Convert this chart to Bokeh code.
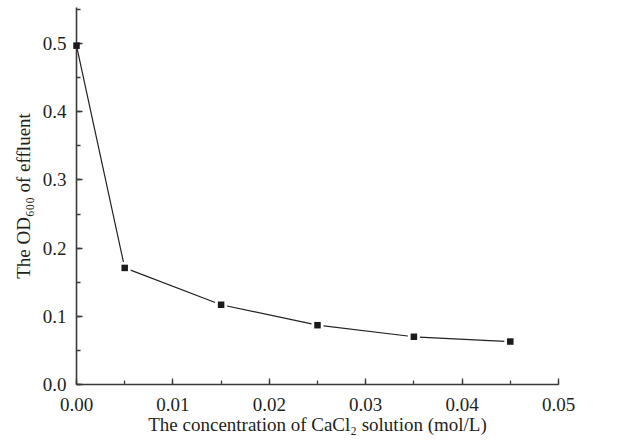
from bokeh.plotting import figure
from bokeh.models import Range1d, SingleIntervalTicker, PrintfTickFormatter, ColumnDataSource
from bokeh.embed import file_html
from bokeh.resources import INLINE

# data
conc = [0.0, 0.005, 0.015, 0.025, 0.035, 0.045]
od600 = [0.497, 0.171, 0.117, 0.087, 0.070, 0.063]

x_ticks_interval = 0.01
y_ticks_interval = 0.1

FONT = "Liberation Serif"
TXT = "#231f20"

p = figure(width=610, height=440, output_backend="svg", toolbar_location=None,
           x_range=Range1d(0, 0.05), y_range=Range1d(0, 0.553),
           min_border_left=76, min_border_right=52, min_border_top=7, min_border_bottom=56)
p.outline_line_color = None
p.xgrid.visible = False
p.ygrid.visible = False

src = ColumnDataSource(dict(x=conc, y=od600))
gap = ColumnDataSource(dict(x=conc[1:], y=od600[1:]))
p.line("x", "y", source=src, line_color="#222222", line_width=1.2)
p.scatter("x", "y", source=gap, marker="square", size=12, fill_color="white", line_color=None)
p.scatter("x", "y", source=src, marker="square", size=6.5, fill_color="#1a1a1a", line_color=None,
          level="overlay")

for ax in (p.xaxis[0], p.yaxis[0]):
    ax.axis_line_color = "#3a3a3a"
    ax.axis_line_width = 1.6
    ax.major_tick_line_color = "#3a3a3a"
    ax.minor_tick_line_color = "#3a3a3a"
    ax.major_tick_line_width = 1.3
    ax.minor_tick_line_width = 1.3
    ax.major_tick_in = 6
    ax.major_tick_out = 0
    ax.minor_tick_in = 4
    ax.minor_tick_out = 0
    ax.major_label_text_font = FONT
    ax.major_label_text_font_size = "19px"
    ax.major_label_text_color = TXT
    ax.axis_label_text_font = FONT
    ax.axis_label_text_font_size = "19px"
    ax.axis_label_text_color = TXT
    ax.axis_label_text_font_style = "normal"

p.xaxis[0].ticker = SingleIntervalTicker(interval=x_ticks_interval, num_minor_ticks=2)
p.yaxis[0].ticker = SingleIntervalTicker(interval=y_ticks_interval, num_minor_ticks=2)
p.xaxis[0].formatter = PrintfTickFormatter(format="%.2f")
p.yaxis[0].formatter = PrintfTickFormatter(format="%.1f")
p.xaxis[0].major_label_standoff = 13
p.yaxis[0].major_label_standoff = 10
p.xaxis[0].axis_label = "The concentration of CaCl\u2082 solution (mol/L)"
p.yaxis[0].axis_label = "The OD\u2086\u2080\u2080 of effluent"
p.xaxis[0].axis_label_standoff = 0
p.yaxis[0].axis_label_standoff = 6

open("out.html", "w").write(file_html(p, INLINE))
